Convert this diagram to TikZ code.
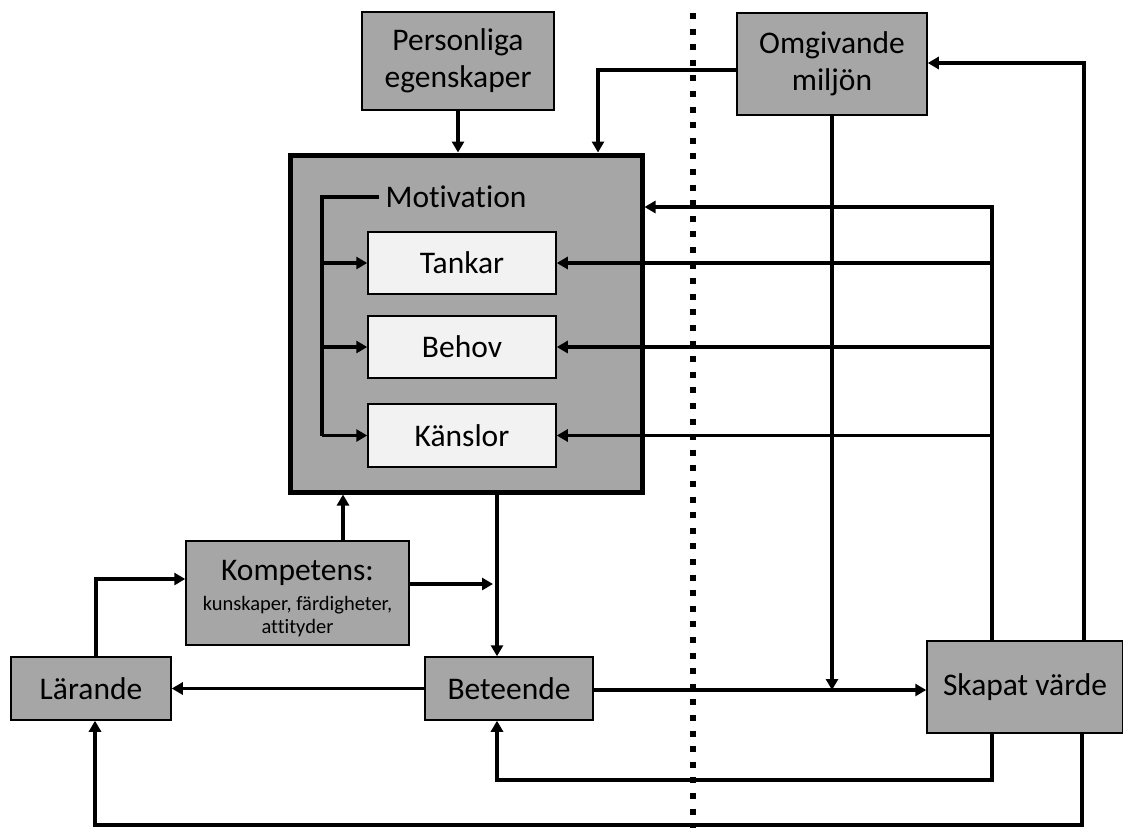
\documentclass[tikz,border=0pt]{standalone}
\usepackage{fontspec}
\setmainfont{Carlito}[Ligatures=NoCommon]
\usetikzlibrary{arrows.meta,positioning}
\tikzset{>={Triangle[length=11pt,width=12pt]}}
\definecolor{boxgray}{HTML}{A6A6A6}
\definecolor{innergray}{HTML}{F2F2F2}

\begin{document}
\begin{tikzpicture}[x=1pt,y=-1pt,
    box/.style={draw,line width=1.5pt,fill=boxgray,inner sep=0pt,align=center,
      font=\fontsize{31.5}{37}\selectfont},
    subbox/.style={box,fill=innergray},
    link/.style={line width=3.8pt,->},
    plain/.style={line width=3.8pt}]
        \useasboundingbox (0,0) rectangle (1123,828);
        % boxes
        \node (pers) at (458,61) [box,minimum width=192,minimum height=98] {Personliga\\egenskaper};
        \node (omg) at (832,64) [box,minimum width=190,minimum height=102] {Omgivande\\miljön};
        \node (mot) at (466,323.5) [box,line width=5pt,minimum width=352,minimum height=337] {};
        \node (motlabel) at (456,197) [inner sep=6pt,font=\fontsize{31.5}{37}\selectfont] {Motivation};
        \node (tank) at (462,263) [subbox,minimum width=188,minimum height=62] {Tankar};
        \node (beh) at (462,347) [subbox,minimum width=188,minimum height=62] {Behov};
        \node (kans) at (462,435.5) [subbox,minimum width=188,minimum height=63] {Känslor};
        \node (komp) at (297.5,593) [box,minimum width=223,minimum height=104]
          {\rule{0pt}{31pt}Kompetens:\\[-7pt]{\fontsize{20.5}{24}\selectfont kunskaper, färdigheter,}\\[-14pt]{\fontsize{20.5}{24}\selectfont attityder}};
        \node (lar) at (91,688.5) [box,minimum width=160,minimum height=63] {Lärande};
        \node (bet) at (509,688.5) [box,minimum width=168,minimum height=63] {Beteende};
        \node (skap) at (1025,687) [box,minimum width=196,minimum height=92] {Skapat värde};
        % border line
        \draw [line width=6pt,dash pattern=on 6pt off 9.6pt] (693,13)--(693,828);
        % junctions
        \coordinate (o1) at (598,70);
        \coordinate (j1) at (832,690);
        \coordinate (r1) at (992,207);
        \coordinate (r2) at (1084,63);
        \coordinate (b1r) at (992,780);
        \coordinate (b1l) at (497,780);
        \coordinate (b2r) at (1082,825);
        \coordinate (b2l) at (95,825);
        \coordinate (k1) at (493,584);
        \coordinate (k2) at (343,520);
        \coordinate (l1) at (96,579);
        \coordinate (m1) at (322,197);
        % connectors
        \draw [link] (pers.south)--(pers.south |- mot.north);
        \draw [link] (omg.west |- o1)--(o1)--(o1 |- mot.north);
        \draw [link] (omg.south)--(j1);
        \draw [link] (bet.east |- j1)--(skap.west |- j1);
        \draw [link] (skap.north -| r1)--(r1)--(r1 -| mot.east);
        \draw [link] (r1 |- tank)--(tank.east);
        \draw [link] (r1 |- beh)--(beh.east);
        \draw [link] (r1 |- kans)--(kans.east);
        \draw [link] (skap.north -| r2)--(r2)--(r2 -| omg.east);
        \draw [link] (skap.south -| b1r)--(b1r)--(b1l)--(b1l |- bet.south);
        \draw [link] (skap.south -| b2r)--(b2r)--(b2l)--(b2l |- lar.south);
        \draw [link] (mot.south -| b1l)--(b1l |- bet.north);
        \draw [link] (komp.east |- k1)--(k1);
        \draw [link] (komp.north -| k2)--(k2 |- mot.south);
        \draw [link] (lar.north -| l1)--(l1)--(l1 -| komp.west);
        \draw [link] (bet.west)--(lar.east);
        \draw [plain] (motlabel.west)--(m1)--(m1 |- kans);
        \draw [link] (m1 |- tank)--(tank.west);
        \draw [link] (m1 |- beh)--(beh.west);
        \draw [link] (m1 |- kans)--(kans.west);
\end{tikzpicture}
\end{document}
